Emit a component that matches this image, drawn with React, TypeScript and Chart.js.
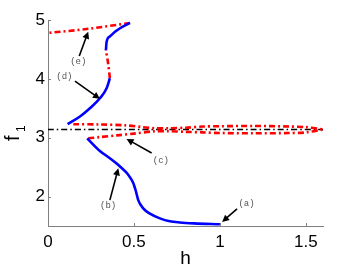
import React, { useEffect, useRef } from "react";
import { Chart, registerables } from "chart.js";

Chart.register(...registerables);

// Axis ticks
const xTicks = [0, 0.5, 1, 1.5];
const yTicks = [2, 3, 4, 5];

// Blue solid branches
const blueLowH = [0.228, 0.30, 0.36, 0.419, 0.467, 0.496, 0.512, 0.525, 0.554, 0.593, 0.651, 0.709, 0.767, 0.85, 1.0];
const blueLowF = [2.99, 2.78, 2.65, 2.51, 2.37, 2.23, 2.085, 1.94, 1.80, 1.71, 1.63, 1.58, 1.56, 1.545, 1.53];

const blueMidH = [0.114, 0.186, 0.244, 0.302, 0.341, 0.36];
const blueMidF = [3.23, 3.36, 3.50, 3.67, 3.84, 4.01];

const blueTopH = [0.337, 0.341, 0.36, 0.39, 0.419, 0.477];
const blueTopF = [4.49, 4.63, 4.72, 4.80, 4.86, 4.95];

// Red dash-dot branches
const redSH = [0.36, 0.35, 0.337];
const redSF = [4.01, 4.26, 4.49];

const redTopH = [0.477, 0.235, 0.0];
const redTopF = [4.95, 4.85, 4.78];

const redUpH = [0.147, 0.30, 0.45, 0.55, 0.62, 0.70, 0.80, 0.90, 1.0, 1.2, 1.4, 1.5, 1.6];
const redUpF = [3.23, 3.225, 3.21, 3.18, 3.16, 3.16, 3.17, 3.19, 3.195, 3.20, 3.19, 3.18, 3.14];

const redLowH = [0.234, 0.30, 0.40, 0.50, 0.62, 0.70, 0.80, 0.90, 1.0, 1.2, 1.4, 1.5, 1.6];
const redLowF = [2.99, 3.01, 3.04, 3.07, 3.11, 3.11, 3.10, 3.09, 3.08, 3.075, 3.08, 3.09, 3.14];

// Black reference line f = pi
const refH = [0, 1.6];
const refF = [Math.PI, Math.PI];

// Annotations
const annLabels = ["(a)", "(b)", "(c)", "(d)", "(e)"];
const annTextH = [1.155, 0.35, 0.657, 0.095, 0.176];
const annTextF = [1.88, 1.85, 2.61, 4.04, 4.29];
const arrowFromH = [1.10, 0.36, 0.603, 0.157, 0.182];
const arrowFromF = [1.79, 1.94, 2.74, 3.96, 4.39];
const arrowToH = [1.013, 0.409, 0.457, 0.302, 0.234];
const arrowToF = [1.57, 2.48, 2.98, 3.66, 4.80];

const pts = (h: number[], f: number[]) => h.map((v, i) => ({ x: v, y: f[i] }));

const BLUE = "#0000ff";
const RED = "#ff0000";

const overlay = {
  id: "overlay",
  afterDraw(chart: any) {
    const ctx = chart.ctx;
    const xs = chart.scales.x;
    const ys = chart.scales.y;
    const area = chart.chartArea;
    ctx.save();
    // inward ticks
    ctx.strokeStyle = "#7f7f7f";
    ctx.lineWidth = 1;
    ctx.beginPath();
    xTicks.forEach((v) => {
      const px = Math.round(xs.getPixelForValue(v)) + 0.5;
      ctx.moveTo(px, area.bottom);
      ctx.lineTo(px, area.bottom - 3);
    });
    yTicks.forEach((v) => {
      const py = Math.round(ys.getPixelForValue(v)) + 0.5;
      ctx.moveTo(area.left, py);
      ctx.lineTo(area.left + 3, py);
    });
    ctx.stroke();

    // arrows
    ctx.strokeStyle = "#000";
    ctx.fillStyle = "#000";
    for (let i = 0; i < annLabels.length; i++) {
      const x1 = xs.getPixelForValue(arrowFromH[i]);
      const y1 = ys.getPixelForValue(arrowFromF[i]);
      const x2 = xs.getPixelForValue(arrowToH[i]);
      const y2 = ys.getPixelForValue(arrowToF[i]);
      const ang = Math.atan2(y2 - y1, x2 - x1);
      const hl = 7;
      const hw = 3.5;
      ctx.lineWidth = 1.6;
      ctx.beginPath();
      ctx.moveTo(x1, y1);
      ctx.lineTo(x2 - Math.cos(ang) * hl * 0.8, y2 - Math.sin(ang) * hl * 0.8);
      ctx.stroke();
      ctx.beginPath();
      ctx.moveTo(x2, y2);
      ctx.lineTo(x2 - Math.cos(ang) * hl + Math.sin(ang) * hw, y2 - Math.sin(ang) * hl - Math.cos(ang) * hw);
      ctx.lineTo(x2 - Math.cos(ang) * hl - Math.sin(ang) * hw, y2 - Math.sin(ang) * hl + Math.cos(ang) * hw);
      ctx.closePath();
      ctx.fill();
    }
    // labels
    ctx.fillStyle = "#555";
    ctx.font = "9px 'Liberation Mono', 'DejaVu Sans Mono', monospace";
    ctx.textAlign = "center";
    ctx.textBaseline = "middle";
    for (let i = 0; i < annLabels.length; i++) {
      ctx.fillText(annLabels[i], xs.getPixelForValue(annTextH[i]), ys.getPixelForValue(annTextF[i]));
    }

    // axis titles
    ctx.fillStyle = "#000";
    ctx.font = "19px 'Liberation Sans', Arial, sans-serif";
    ctx.textAlign = "center";
    ctx.textBaseline = "alphabetic";
    ctx.fillText("h", (area.left + area.right) / 2, 264);

    ctx.translate(19, 132);
    ctx.rotate(-Math.PI / 2);
    ctx.textAlign = "left";
    ctx.font = "20px 'Liberation Sans', Arial, sans-serif";
    ctx.fillText("f", -9, 0);
    ctx.font = "12px 'Liberation Sans', Arial, sans-serif";
    ctx.fillText("1", 0, 6);
    ctx.restore();
  },
};

export default function App() {
  const ref = useRef<HTMLCanvasElement>(null);
  useEffect(() => {
    if (!ref.current) return;
    const solid = (h: number[], f: number[], color: string) => ({
      data: pts(h, f),
      borderColor: color,
      borderWidth: 2.6,
      pointRadius: 0,
      cubicInterpolationMode: "monotone",
      fill: false,
    });
    const dashdot = (h: number[], f: number[], color: string, w: number, dash: number[]) => ({
      data: pts(h, f),
      borderColor: color,
      borderWidth: w,
      borderDash: dash,
      pointRadius: 0,
      tension: 0.3,
      fill: false,
    });
    const chart = new Chart(ref.current, {
      type: "line",
      data: {
        datasets: [
          solid(blueLowH, blueLowF, BLUE),
          solid(blueMidH, blueMidF, BLUE),
          solid(blueTopH, blueTopF, BLUE),
          dashdot(redSH, redSF, RED, 2.6, [6, 3, 2, 3]),
          dashdot(redTopH, redTopF, RED, 2.6, [6, 3, 2, 3]),
          dashdot(redUpH, redUpF, RED, 2.6, [6, 3, 2, 3]),
          dashdot(redLowH, redLowF, RED, 2.6, [6, 3, 2, 3]),
          dashdot(refH, refF, "#000", 1.5, [6, 3, 1.5, 3]),
        ] as any,
      },
      options: {
        animation: false,
        responsive: false,
        events: [],
        layout: { padding: { left: 0, top: 20, right: 36, bottom: 0 } },
        plugins: { legend: { display: false }, tooltip: { enabled: false } },
        scales: {
          x: {
            type: "linear",
            min: 0,
            max: 1.6,
            grid: { display: false, drawTicks: false },
            border: { display: true, color: "#7f7f7f", width: 1 },
            ticks: {
              color: "#000",
              padding: 6,
              font: { family: "'Liberation Sans', Arial, sans-serif", size: 17 },
              callback: (v: any) => String(v),
            },
            afterBuildTicks: (s: any) => {
              s.ticks = xTicks.map((v) => ({ value: v }));
            },
            afterFit: (s: any) => {
              s.height = 44;
            },
          },
          y: {
            type: "linear",
            min: 1.5,
            max: 5,
            grid: { display: false, drawTicks: false },
            border: { display: true, color: "#7f7f7f", width: 1 },
            ticks: {
              color: "#000",
              padding: 3,
              font: { family: "'Liberation Sans', Arial, sans-serif", size: 17 },
              callback: (v: any) => String(v),
            },
            afterBuildTicks: (s: any) => {
              s.ticks = yTicks.map((v) => ({ value: v }));
            },
            afterFit: (s: any) => {
              s.width = 48;
            },
          },
        },
      },
      plugins: [overlay],
    });
    return () => chart.destroy();
  }, []);
  return (
    <div style={{ position: "absolute", left: 0, top: 0, width: 359, height: 270, background: "#fff" }}>
      <canvas ref={ref} width={359} height={270} />
    </div>
  );
}
